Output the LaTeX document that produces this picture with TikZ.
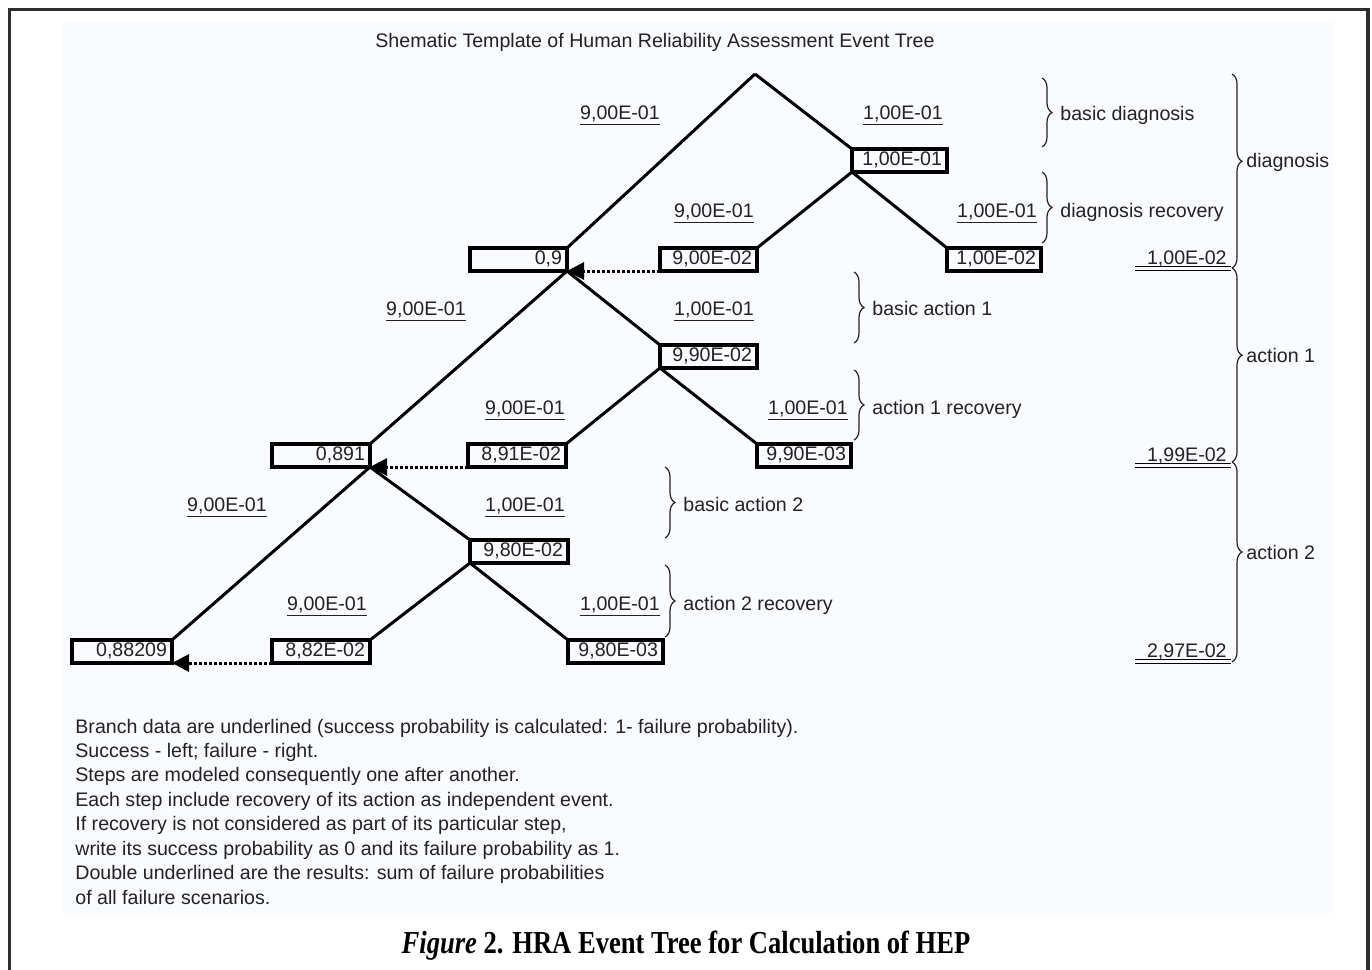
\documentclass[tikz,border=0pt]{standalone}
\usepackage{graphicx}
\usepackage{fontspec}
\setmainfont{Liberation Sans}
\newfontfamily\capfont{Liberation Serif}
\usetikzlibrary{arrows.meta,decorations.pathreplacing}
\definecolor{ink}{HTML}{222222}
\definecolor{panel}{HTML}{FAFBFE}
\definecolor{framecol}{HTML}{2E2E2E}
\begin{document}
\begin{tikzpicture}[x=0.5pt,y=-0.5pt,
  every node/.style={font=\fontsize{9.8pt}{12.2pt}\selectfont, text=ink},
  probbox/.style={draw=black, line width=1.9pt, outer sep=0pt, inner xsep=2.5pt,
    inner ysep=0pt, minimum height=11.5pt, text width=#1, align=right,
    anchor=north west, text height=7pt, text depth=1.6pt},
  branch/.style={line width=1.5pt, black},
  recov/.style={line width=1.5pt, black, dash pattern=on 1.4pt off 1.1pt,
    -{Triangle[length=8.5pt,width=8.5pt]}},
  blab/.style={inner sep=0pt, anchor=base},
  txt/.style={inner sep=0pt, anchor=base west},
  smallbrace/.style={decorate, decoration={brace, amplitude=5pt, aspect=0.5},
    line width=0.6pt, ink},
  bigbrace/.style={decorate, decoration={brace, amplitude=5pt, aspect=0.45},
    line width=0.6pt, ink},
  dline/.style={line width=0.8pt, black}]
\useasboundingbox (0,0) rectangle (1372,970);

% page frame and drawing panel
\draw[framecol, line width=1.6pt] (9.5,975) -- (9.5,9.5) -- (1368,9.5) -- (1368,975);
\fill[panel] (63,22) rectangle (1334,913);

% title
\node[inner sep=0pt, anchor=base] (title) at (655,47)
  {Shematic Template of Human Reliability Assessment Event Tree};

% event tree boxes
\coordinate (apex) at (755,74);
\node[probbox=42.5pt] (d1) at (852,149) {1,00E-01};
\node[probbox=43.5pt] (s1) at (470,248) {0,9};
\node[probbox=43.5pt] (r1) at (660,248) {9,00E-02};
\node[probbox=42pt]   (f1) at (947,248) {1,00E-02};
\node[probbox=43.5pt] (d2) at (660,345) {9,90E-02};
\node[probbox=44pt]   (s2) at (272,444) {0,891};
\node[probbox=44pt]   (r2) at (468,444) {8,91E-02};
\node[probbox=42pt]   (f2) at (757,444) {9,90E-03};
\node[probbox=44pt]   (d3) at (470,540) {9,80E-02};
\node[probbox=45pt]   (s3) at (72,640)  {0,88209};
\node[probbox=44pt]   (r3) at (272,640) {8,82E-02};
\node[probbox=42.5pt] (f3) at (568,640) {9,80E-03};

% branches: success to the left, failure to the right
\draw[branch] (apex) -- (s1.north east);
\draw[branch] (apex) -- (d1.north west);
\draw[branch] (d1.south west) -- (r1.north east);
\draw[branch] (d1.south west) -- (f1.north west);
\draw[branch] (s1.south east) -- (s2.north east);
\draw[branch] (s1.south east) -- (d2.north west);
\draw[branch] (d2.south west) -- (r2.north east);
\draw[branch] (d2.south west) -- (f2.north west);
\draw[branch] (s2.south east) -- (s3.north east);
\draw[branch] (s2.south east) -- (d3.north west);
\draw[branch] (d3.south west) -- (r3.north east);
\draw[branch] (d3.south west) -- (f3.north west);

% recovered paths rejoin the success line
\draw[recov] (r1.south west) -- (s1.south east);
\draw[recov] (r2.south west) -- (s2.south east);
\draw[recov] (r3.south west) -- (s3.south east);

% branch data
\node[blab] (p1s) at (620,119) {\underline{9,00E-01}};
\node[blab] (p1f) at (903,119) {\underline{1,00E-01}};
\node[blab] (p2s) at (714,217) {\underline{9,00E-01}};
\node[blab] (p2f) at (997,217) {\underline{1,00E-01}};
\node[blab] (p3s) at (426,315) {\underline{9,00E-01}};
\node[blab] (p3f) at (714,315) {\underline{1,00E-01}};
\node[blab] (p4s) at (525,414) {\underline{9,00E-01}};
\node[blab] (p4f) at (808,414) {\underline{1,00E-01}};
\node[blab] (p5s) at (227,511) {\underline{9,00E-01}};
\node[blab] (p5f) at (525,511) {\underline{1,00E-01}};
\node[blab] (p6s) at (327,610) {\underline{9,00E-01}};
\node[blab] (p6f) at (620,610) {\underline{1,00E-01}};

% step braces
\draw[smallbrace] (1042,78) -- (1042,147);
\node[txt] (t1) at (1060,120) {basic diagnosis};
\draw[smallbrace] (1042,172) -- (1042,243);
\node[txt] (t2) at (1060,217) {diagnosis recovery};
\draw[smallbrace] (854,272) -- (854,343);
\node[txt] (t3) at (872,315) {basic action 1};
\draw[smallbrace] (854,370) -- (854,440);
\node[txt] (t4) at (872,414) {action 1 recovery};
\draw[smallbrace] (665,467) -- (665,538);
\node[txt] (t5) at (683,511) {basic action 2};
\draw[smallbrace] (665,565) -- (665,637);
\node[txt] (t6) at (683,610) {action 2 recovery};

% cumulative results
\draw[bigbrace] (1232,74) -- (1232,268);
\node[txt] (g1) at (1246,167) {diagnosis};
\draw[bigbrace] (1232,268) -- (1232,462);
\node[txt] (g2) at (1246,362) {action 1};
\draw[bigbrace] (1232,462) -- (1232,662);
\node[txt] (g3) at (1246,559) {action 2};

\node[inner sep=0pt, anchor=base east] (res1) at (1227,264) {1,00E-02};
\draw[dline] (1135,266.5) -- (1231,266.5);
\draw[dline] (1135,270.5) -- (1231,270.5);
\node[inner sep=0pt, anchor=base east] (res2) at (1227,461) {1,99E-02};
\draw[dline] (1135,463.5) -- (1231,463.5);
\draw[dline] (1135,467.5) -- (1231,467.5);
\node[inner sep=0pt, anchor=base east] (res3) at (1227,657) {2,97E-02};
\draw[dline] (1135,659.5) -- (1231,659.5);
\draw[dline] (1135,663.5) -- (1231,663.5);

% notes
\node[txt] (n1) at (75,733) {Branch data are underlined (success probability is calculated: 1- failure probability).};
\node[txt] (n2) at (75,757) {Success - left; failure - right.};
\node[txt] (n3) at (75,781) {Steps are modeled consequently one after another.};
\node[txt] (n4) at (75,806) {Each step include recovery of its action as independent event.};
\node[txt] (n5) at (75,830) {If recovery is not considered as part of its particular step,};
\node[txt] (n6) at (75,855) {write its success probability as 0 and its failure probability as 1.};
\node[txt] (n7) at (75,879) {Double underlined are the results: sum of failure probabilities};
\node[txt] (n8) at (75,904) {of all failure scenarios.};

% caption
\node[inner sep=0pt, anchor=base, text=black,
  font=\capfont\bfseries\fontsize{16pt}{18pt}\selectfont] (cap) at (686,953)
  {\scalebox{0.83}[1]{\textit{Figure} 2. HRA Event Tree for Calculation of HEP}};
\end{tikzpicture}
\end{document}
